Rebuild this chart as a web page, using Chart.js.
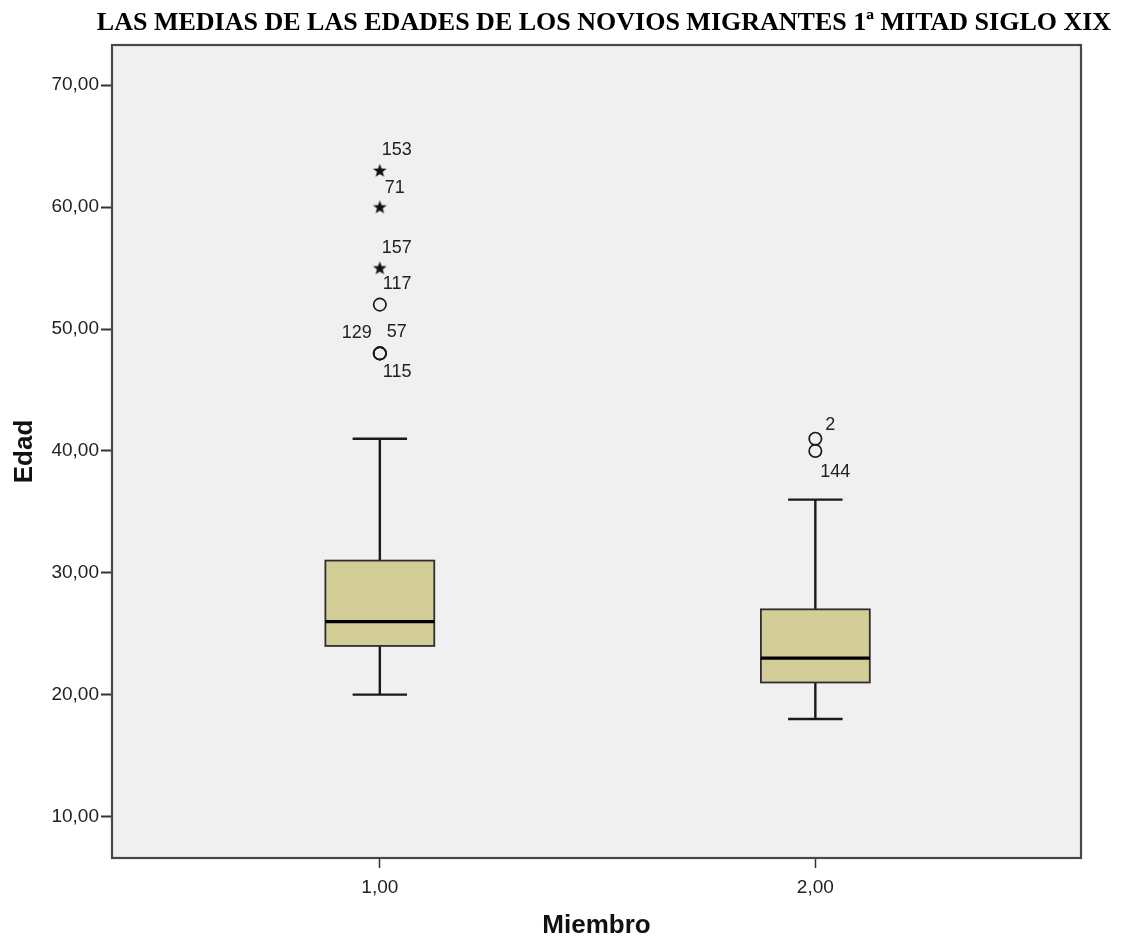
<!DOCTYPE html>
<html>
<head>
<meta charset="utf-8">
<script src="https://cdn.jsdelivr.net/npm/chart.js@4.4.1/dist/chart.umd.min.js"></script>
<style>
  html, body { margin: 0; padding: 0; background: #fff; }
  #chart { display: block; }
</style>
</head>
<body>
<canvas id="chart" width="1123" height="941"></canvas>
<script>
const groups = [1, 2];
const groupLabels = ["1,00", "2,00"];
const whiskerLow = [20, 18];
const q1 = [24, 21];
const medians = [26, 23];
const q3 = [31, 27];
const whiskerHigh = [41, 36];

// extremos (estrella) y atipicos (circulo), con el numero de caso
const extremeGroup = [1, 1, 1];
const extremeValues = [63, 60, 55];
const extremeCases = ["153", "71", "157"];
const outlierGroup = [1, 1, 1, 1, 2, 2];
const outlierValues = [52, 48, 48, 48, 41, 40];
const outlierCases = ["117", "129", "57", "115", "2", "144"];

const yTicks = [10, 20, 30, 40, 50, 60, 70];
const chartTitle = "LAS MEDIAS DE LAS EDADES DE LOS NOVIOS MIGRANTES 1ª MITAD SIGLO XIX";

// where each case number sits relative to its marker (dx, dy, align)
const labelPlace = {
  "153": [2, -21, "left"], "71": [5, -19, "left"], "157": [2, -20, "left"],
  "117": [3, -21, "left"], "129": [-8, -20, "right"], "57": [7, -21, "left"],
  "115": [3, 19, "left"], "2": [10, -14, "left"], "144": [5, 21, "left"]
};

const sans = "'Liberation Sans', Arial, sans-serif";

function starImage() {
  const c = document.createElement("canvas");
  c.width = 15;
  c.height = 15;
  const g = c.getContext("2d");
  g.beginPath();
  for (let k = 0; k < 10; k++) {
    const r = k % 2 === 0 ? 7.2 : 3;
    const a = -Math.PI / 2 + k * Math.PI / 5;
    const px = 7.5 + r * Math.cos(a), py = 7.9 + r * Math.sin(a);
    if (k === 0) g.moveTo(px, py); else g.lineTo(px, py);
  }
  g.closePath();
  g.fillStyle = "#111";
  g.fill();
  return c;
}

const boxPlot = {
  id: "boxPlot",
  beforeDraw(c) {
    const { ctx, chartArea: a } = c;
    ctx.save();
    ctx.fillStyle = "#f0f0f0";
    ctx.fillRect(a.left, a.top, a.right - a.left, a.bottom - a.top);
    ctx.restore();
  },
  beforeDatasetsDraw(c) {
    const { ctx } = c;
    const x = c.scales.x, y = c.scales.y;
    ctx.save();
    groups.forEach((g, i) => {
      const xc = x.getPixelForValue(g);
      const xl = x.getPixelForValue(g - 0.125), xr = x.getPixelForValue(g + 0.125);
      const cl = x.getPixelForValue(g - 0.0625), cr = x.getPixelForValue(g + 0.0625);
      const yHi = y.getPixelForValue(whiskerHigh[i]), yLo = y.getPixelForValue(whiskerLow[i]);
      const y3 = y.getPixelForValue(q3[i]), y1 = y.getPixelForValue(q1[i]);
      const ym = y.getPixelForValue(medians[i]);

      ctx.strokeStyle = "#1a1a1a";
      ctx.lineWidth = 2.4;
      ctx.beginPath();
      ctx.moveTo(xc, yHi); ctx.lineTo(xc, y3);
      ctx.moveTo(xc, y1); ctx.lineTo(xc, yLo);
      ctx.moveTo(cl, yHi); ctx.lineTo(cr, yHi);
      ctx.moveTo(cl, yLo); ctx.lineTo(cr, yLo);
      ctx.stroke();

      ctx.fillStyle = "#d3ce97";
      ctx.fillRect(xl, y3, xr - xl, y1 - y3);
      ctx.strokeStyle = "#2e2e2e";
      ctx.lineWidth = 1.8;
      ctx.strokeRect(xl, y3, xr - xl, y1 - y3);

      ctx.strokeStyle = "#000";
      ctx.lineWidth = 3.2;
      ctx.beginPath();
      ctx.moveTo(xl, ym); ctx.lineTo(xr, ym);
      ctx.stroke();
    });
    ctx.restore();
  },
  afterDraw(c) {
    const { ctx, chartArea: a } = c;
    ctx.save();
    ctx.strokeStyle = "#474747";
    ctx.lineWidth = 2.2;
    ctx.strokeRect(a.left, a.top, a.right - a.left, a.bottom - a.top);

    // case numbers
    ctx.font = "18px " + sans;
    ctx.fillStyle = "#222";
    ctx.textBaseline = "middle";
    [extremeCases, outlierCases].forEach((cases, di) => {
      c.getDatasetMeta(di).data.forEach((pt, j) => {
        const p = labelPlace[cases[j]];
        ctx.textAlign = p[2];
        ctx.fillText(cases[j], pt.x + p[0], pt.y + p[1]);
      });
    });

    ctx.font = "bold 26px 'Liberation Serif', 'Times New Roman', serif";
    ctx.fillStyle = "#000";
    ctx.textAlign = "center";
    ctx.textBaseline = "alphabetic";
    ctx.fillText(chartTitle, 604, 30);
    ctx.restore();
  }
};

new Chart(document.getElementById("chart"), {
  type: "scatter",
  data: {
    datasets: [
      {
        label: "Extremos",
        data: extremeValues.map((v, i) => ({ x: extremeGroup[i], y: v })),
        pointStyle: starImage(),
        pointRadius: 7,
      },
      {
        label: "Atipicos",
        data: outlierValues.map((v, i) => ({ x: outlierGroup[i], y: v })),
        pointStyle: "circle",
        pointRadius: 6.2,
        borderWidth: 1.7,
        borderColor: "#1a1a1a",
        backgroundColor: "rgba(0,0,0,0)",
      },
    ],
  },
  options: {
    responsive: false,
    animation: false,
    layout: { padding: { top: 45, right: 42, left: 0, bottom: 0 } },
    plugins: {
      legend: { display: false },
      tooltip: { enabled: false },
    },
    scales: {
      x: {
        type: "linear",
        min: 0.385,
        max: 2.61,
        afterFit: (s) => { s.height = 83; },
        afterBuildTicks: (s) => { s.ticks = groups.map((v) => ({ value: v })); },
        ticks: {
          callback: (v, i) => groupLabels[i],
          font: { family: sans, size: 19 },
          color: "#222",
          padding: 8,
        },
        grid: { drawOnChartArea: false, drawTicks: true, tickLength: 10, tickColor: "#333", tickWidth: 1.5 },
        border: { display: false },
        title: {
          display: true,
          text: "Miembro",
          font: { family: sans, size: 26, weight: "bold" },
          color: "#111",
          padding: { top: 0, bottom: 0 },
        },
      },
      y: {
        min: 6.6,
        max: 73.3,
        afterFit: (s) => { s.width = 112; },
        afterBuildTicks: (s) => { s.ticks = yTicks.map((v) => ({ value: v })); },
        ticks: {
          callback: (v) => v.toFixed(2).replace(".", ","),
          font: { family: sans, size: 19 },
          color: "#222",
          padding: 2,
        },
        grid: { drawOnChartArea: false, drawTicks: true, tickLength: 11, tickColor: "#333", tickWidth: 2 },
        border: { display: false },
        title: {
          display: true,
          text: "Edad",
          font: { family: sans, size: 26, weight: "bold" },
          color: "#111",
          padding: { top: 9, bottom: 0 },
        },
      },
    },
  },
  plugins: [boxPlot],
});
</script>
</body>
</html>
